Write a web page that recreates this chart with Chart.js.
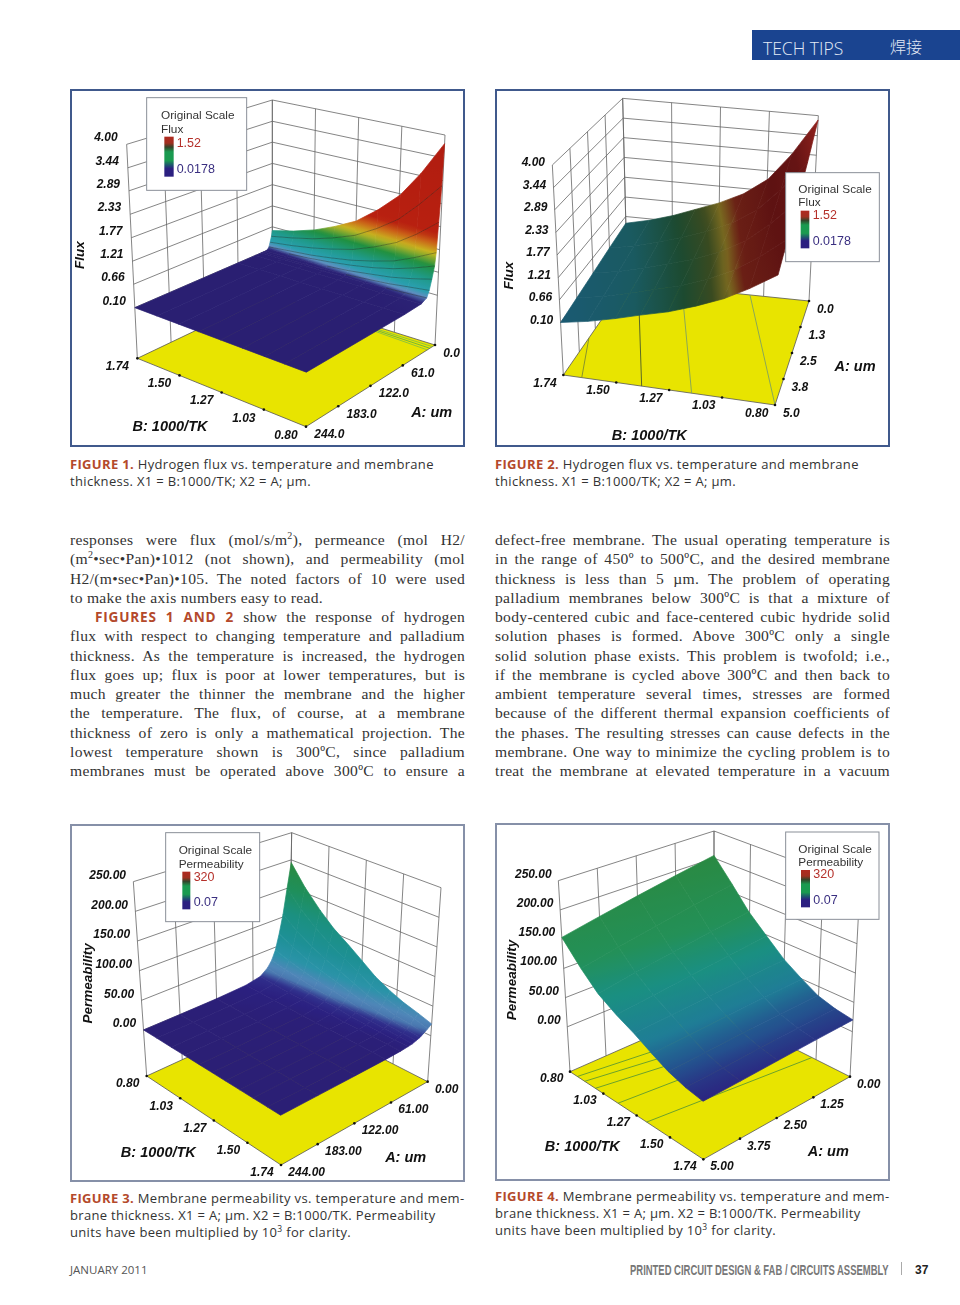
<!DOCTYPE html>
<html lang="en">
<head>
<meta charset="utf-8">
<title>Tech Tips</title>
<script src="https://cdn.jsdelivr.net/npm/chart.js"></script>
<style>
  html, body { margin: 0; padding: 0; background: #fff; }
  #page { position: relative; width: 960px; height: 1305px; overflow: hidden; }
  .abs { position: absolute; }
  .frame { position: absolute; box-sizing: border-box; width: 395px; height: 358px; border: 2px solid #40598c; }
  .frame.pale { border-color: #8690a8; }
  canvas { position: absolute; width: 405px; height: 365px; }
  .band { left: 752px; top: 30px; width: 208px; height: 30px; background: #1a4490; }
  .tt { left: 763px; top: 38px; font: 300 17.5px/20px "Open Sans", sans-serif; color: #e4ebf6; }
  .cn { left: 890px; top: 36px; font: 300 16px/20px "Noto Sans CJK SC", sans-serif; color: #e4ebf6; }
  .cap { position: absolute; font: 13px/16.8px "Open Sans", sans-serif; letter-spacing: .33px; color: #333; white-space: nowrap; }
  .cap b { color: #b4492b; font-weight: 700; }
  .cap sup { font-size: 8.5px; line-height: 0; }
  .col { position: absolute; top: 530px; width: 395px; font: 15.6px/19.25px "Liberation Serif", serif; letter-spacing: .3px; color: #333; }
  .col div { height: 19.25px; text-align: justify; text-align-last: justify; white-space: normal; overflow: hidden; }
  .col div.end { text-align-last: left; }
  .col div.ind { padding-left: 25px; }
  .col sup { font-size: 10px; line-height: 0; }
  .col b { font: 700 13.6px "Open Sans", sans-serif; color: #b4492b; letter-spacing: .8px; }
  .foot { font: 11.5px/14px "Open Sans", sans-serif; color: #555; left: 70px; top: 1263px; }
  .pub { left: 630px; top: 1262px; font: 700 14px/16px "Liberation Sans", sans-serif; color: #777; white-space: nowrap; transform-origin: 0 0; transform: scaleX(.675); }
  .sep { left: 901px; top: 1262px; width: 1px; height: 13px; background: #aaa; }
  .num { left: 915px; top: 1263px; font: 700 12px/14px "Liberation Sans", sans-serif; color: #222; }
</style>
</head>
<body>
<div id="page">
  <div class="abs band"></div>
  <div class="abs tt">TECH TIPS</div>
  <div class="abs cn">焊接</div>

  <div class="frame" style="left:70px;top:89px"></div>
  <div class="frame" style="left:495px;top:89px"></div>
  <div class="frame pale" style="left:70px;top:824px"></div>
  <div class="frame pale" style="left:495px;top:823px"></div>
  <canvas id="chart1" width="405" height="365" style="left:65px;top:85px"></canvas>
  <canvas id="chart2" width="405" height="365" style="left:490px;top:85px"></canvas>
  <canvas id="chart3" width="405" height="365" style="left:65px;top:820px"></canvas>
  <canvas id="chart4" width="405" height="365" style="left:490px;top:820px"></canvas>

  <div class="cap" style="left:70px;top:456px"><b>FIGURE 1.</b> Hydrogen flux vs. temperature and membrane<br>thickness. X1 = B:1000/TK; X2 = A; µm.</div>
  <div class="cap" style="left:495px;top:456px"><b>FIGURE 2.</b> Hydrogen flux vs. temperature and membrane<br>thickness. X1 = B:1000/TK; X2 = A; µm.</div>
  <div class="cap" style="left:70px;top:1190px"><b>FIGURE 3.</b> Membrane permeability vs. temperature and mem-<br>brane thickness. X1 = A; µm. X2 = B:1000/TK. Permeability<br>units have been multiplied by 10<sup>3</sup> for clarity.</div>
  <div class="cap" style="left:495px;top:1188px"><b>FIGURE 4.</b> Membrane permeability vs. temperature and mem-<br>brane thickness. X1 = A; µm. X2 = B:1000/TK. Permeability<br>units have been multiplied by 10<sup>3</sup> for clarity.</div>

  <div class="col" style="left:70px">
    <div>responses were flux (mol/s/m<sup>2</sup>), permeance (mol H2/</div>
    <div>(m<sup>2</sup>•sec•Pan)•1012 (not shown), and permeability (mol</div>
    <div>H2/(m•sec•Pan)•105. The noted factors of 10 were used</div>
    <div class="end">to make the axis numbers easy to read.</div>
    <div class="ind"><b>FIGURES 1 AND 2</b> show the response of hydrogen</div>
    <div>flux with respect to changing temperature and palladium</div>
    <div>thickness. As the temperature is increased, the hydrogen</div>
    <div>flux goes up; flux is poor at lower temperatures, but is</div>
    <div>much greater the thinner the membrane and the higher</div>
    <div>the temperature. The flux, of course, at a membrane</div>
    <div>thickness of zero is only a mathematical projection. The</div>
    <div>lowest temperature shown is 300ºC, since palladium</div>
    <div>membranes must be operated above 300ºC to ensure a</div>
  </div>
  <div class="col" style="left:495px">
    <div>defect-free membrane. The usual operating temperature is</div>
    <div>in the range of 450º to 500ºC, and the desired membrane</div>
    <div>thickness is less than 5 µm. The problem of operating</div>
    <div>palladium membranes below 300ºC is that a mixture of</div>
    <div>body-centered cubic and face-centered cubic hydride solid</div>
    <div>solution phases is formed. Above 300ºC only a single</div>
    <div>solid solution phase exists. This problem is twofold; i.e.,</div>
    <div>if the membrane is cycled above 300ºC and then back to</div>
    <div>ambient temperature several times, stresses are formed</div>
    <div>because of the different thermal expansion coefficients of</div>
    <div>the phases. The resulting stresses can cause defects in the</div>
    <div>membrane. One way to minimize the cycling problem is to</div>
    <div>treat the membrane at elevated temperature in a vacuum</div>
  </div>

  <div class="abs foot">JANUARY 2011</div>
  <div class="abs pub">PRINTED CIRCUIT DESIGN &amp; FAB / CIRCUITS ASSEMBLY</div>
  <div class="abs sep"></div>
  <div class="abs num">37</div>
</div>

<script>
// values
var fluxZTicks = ['0.10', '0.66', '1.21', '1.77', '2.33', '2.89', '3.44', '4.00'];
var permZTicks = ['0.00', '50.00', '100.00', '150.00', '200.00', '250.00'];

var fig1ATicks = ['0.0', '61.0', '122.0', '183.0', '244.0'];
var fig1BTicks = ['1.74', '1.50', '1.27', '1.03', '0.80'];
var fig1A = [0, 1.5, 4, 6, 8, 12, 16, 20, 30, 61, 244];
var fig1B = [1.74, 1.62, 1.50, 1.39, 1.27, 1.15, 1.03, 0.92, 0.80];
var fig1Flux = [
  [0.56, 0.70, 0.88, 1.10, 1.38, 1.80, 2.30, 2.95, 3.79],
  [0.42, 0.53, 0.66, 0.82, 1.03, 1.34, 1.71, 2.19, 2.77],
  [0.28, 0.35, 0.44, 0.55, 0.69, 0.90, 1.15, 1.48, 1.90],
  [0.17, 0.22, 0.27, 0.34, 0.43, 0.56, 0.71, 0.92, 1.18],
  [0.12, 0.16, 0.20, 0.25, 0.32, 0.41, 0.53, 0.68, 0.87],
  [0.10, 0.11, 0.13, 0.17, 0.21, 0.28, 0.35, 0.45, 0.58],
  [0.10, 0.10, 0.10, 0.12, 0.14, 0.18, 0.22, 0.28, 0.34],
  [0.10, 0.10, 0.10, 0.10, 0.11, 0.12, 0.14, 0.16, 0.19],
  [0.10, 0.10, 0.10, 0.10, 0.10, 0.10, 0.10, 0.11, 0.12],
  [0.10, 0.10, 0.10, 0.10, 0.10, 0.10, 0.10, 0.10, 0.10],
  [0.10, 0.10, 0.10, 0.10, 0.10, 0.10, 0.10, 0.10, 0.10]
];

var fig2ATicks = ['0.0', '1.3', '2.5', '3.8', '5.0'];
var fig2BTicks = ['1.74', '1.50', '1.27', '1.03', '0.80'];
var fig2A = [0, 1.25, 2.5, 3.75, 5];
var fig2B = [1.74, 1.62, 1.50, 1.39, 1.27, 1.15, 1.03, 0.92, 0.80];
var fig2Flux = [
  [0.47, 0.62, 0.82, 1.05, 1.30, 1.62, 2.10, 2.85, 3.88],
  [0.37, 0.50, 0.68, 0.87, 1.10, 1.40, 1.83, 2.45, 3.25],
  [0.27, 0.39, 0.56, 0.74, 0.94, 1.21, 1.58, 2.09, 2.75],
  [0.18, 0.30, 0.47, 0.64, 0.82, 1.07, 1.39, 1.80, 2.32],
  [0.10, 0.22, 0.38, 0.55, 0.72, 0.95, 1.22, 1.55, 1.97]
];

var fig3ATicks = ['0.00', '61.00', '122.00', '183.00', '244.00'];
var fig3BTicks = ['0.80', '1.03', '1.27', '1.50', '1.74'];
var fig3A = [0, 6, 12, 18, 24, 30, 37, 49, 73, 122, 183, 244];
var fig3B = [0.80, 0.89, 0.99, 1.08, 1.18, 1.27, 1.36, 1.46, 1.55, 1.65, 1.74];
var fig3Perm = [
  [195, 160, 130, 108, 90, 73, 56, 43, 34, 27, 20],
  [150, 123, 100, 83, 69, 56, 43, 33, 26, 21, 15],
  [105, 86, 70, 58, 49, 39, 30, 23, 18, 15, 11],
  [72, 59, 48, 40, 33, 27, 21, 16, 13, 10, 7],
  [45, 37, 30, 25, 21, 17, 13, 10, 8, 6, 5],
  [29, 24, 20, 16, 14, 11, 8, 6, 5, 4, 3],
  [18, 14, 12, 10, 8, 7, 5, 4, 3, 2, 2],
  [8, 6, 5, 4, 4, 3, 2, 2, 1, 1, 1],
  [3, 3, 2, 2, 1, 1, 1, 1, 0.5, 0.5, 0.3],
  [1, 0.8, 0.7, 0.5, 0.5, 0.4, 0.3, 0.2, 0.2, 0.1, 0.1],
  [0.4, 0.3, 0.3, 0.2, 0.2, 0.1, 0.1, 0.1, 0.1, 0.07, 0.07],
  [0.2, 0.2, 0.1, 0.1, 0.1, 0.1, 0.07, 0.07, 0.07, 0.07, 0.07]
];

var fig4ATicks = ['0.00', '1.25', '2.50', '3.75', '5.00'];
var fig4BTicks = ['0.80', '1.03', '1.27', '1.50', '1.74'];
var fig4A = [0, 1.25, 2.5, 3.75, 5];
var fig4B = [0.80, 0.92, 1.03, 1.15, 1.27, 1.39, 1.50, 1.62, 1.74];
var fig4Perm = [
  [205, 165, 128, 98, 70, 50, 34, 25, 20],
  [192, 153, 119, 91, 67, 48, 33, 24, 19],
  [179, 141, 109, 85, 64, 46, 32, 23, 17.5],
  [166, 129, 100, 78, 61, 44, 30, 21, 16],
  [153, 117, 90, 72, 58, 42, 29, 20, 15]
];

// colour maps, value -> colour
var fluxColors = [[0.10, '#2a1f72'], [0.13, '#2c2478'], [0.2, '#5f8fc0'], [0.3, '#2a9fb0'], [0.55, '#1f9a8a'], [0.85, '#1f9040'], [1.15, '#c8b820'], [1.38, '#cc6618'], [1.6, '#b82010'], [3.9, '#b01c10']];
var flux2Colors = [[0.10, '#1a5a72'], [0.5, '#1a5a60'], [0.85, '#1c4a30'], [1.12, '#3a4a20'], [1.3, '#7a6a20'], [1.5, '#6a1f15'], [2.2, '#5e1212'], [3.0, '#661414'], [3.9, '#96241e']];
var permColors = [[0.07, '#2b1f75'], [3, '#2b2080'], [8, '#30308c'], [15, '#4a78b0'], [22, '#4f86b8'], [40, '#2a93a8'], [70, '#1d9095'], [110, '#1b9080'], [150, '#1f8f5a'], [195, '#2a8a40'], [320, '#a82018']];
var perm4Colors = [[0.07, '#2b1f75'], [15, '#2b2580'], [28, '#24508e'], [50, '#1f7d96'], [85, '#1a8f82'], [125, '#239058'], [205, '#2a8a42']];

// where each box of each plot sits, in reference crop units (three per pixel)
var UNITS = 3;
var fig1 = {
  id: 'chart1', A: fig1A, B: fig1B, Z: fig1Flux, aTicks: fig1ATicks, bTicks: fig1BTicks, zTicks: fluxZTicks,
  colors: fluxColors, zFloor: -1.11, zName: 'Flux', rowLines: 0.13,
  K: [622, 627], L: [217, 820], R: [1110, 780], F: [723, 1025],
  KT: [622, 45], LT: [185, 178], RT: [1140, 150], FT: [727, 335],
  zOff: [-27, -19], bOff: [-60, 26], aOff: [25, 25],
  bTitle: [315, 1027], aTitle: [1100, 985], zTitle: [47, 510],
  contours: [[[0.02, 1], [0.02, 0.6], '#88c040'], [[0.04, 1], [0.03, 0.6], '#66b040'], [[0.06, 1], [0.04, 0.6], '#88c040']],
  box: [245, 38, 545, 316], text: [288, 93, 133], bar: [298, 155, 326, 275], hi: ['1.52', 335, 175], lo: ['0.0178', 335, 255]
};
var fig2 = {
  id: 'chart2', A: fig2A, B: fig2B, Z: fig2Flux, aTicks: fig2ATicks, bTicks: fig2BTicks, zTicks: fluxZTicks,
  colors: flux2Colors, zFloor: -1.20, zName: 'Flux',
  K: [412, 592], L: [220, 870], R: [957, 648], F: [855, 960],
  KT: [398, 40], LT: [187, 240], RT: [985, 92], FT: [870, 320],
  zOff: [-22, -6], bOff: [-55, 25], aOff: [24, 26],
  bTitle: [478, 1053], aTitle: [1095, 845], zTitle: [58, 572],
  contours: [[[1, 0.087], [0.6, 0], '#7d8a30'], [[1, 0.37], [0, 0.06], '#4a5a2a'], [[1, 0.606], [0, 0.3], '#7fa060'], [[1, 1], [0, 0.675], '#7fa060']],
  box: [887, 263, 1168, 530], text: [925, 315, 353], bar: [932, 377, 958, 490], hi: ['1.52', 968, 393], lo: ['0.0178', 968, 470]
};
var fig3 = {
  id: 'chart3', A: fig3A, B: fig3B, Z: fig3Perm, aTicks: fig3ATicks, bTicks: fig3BTicks, zTicks: permZTicks,
  colors: permColors, zFloor: -77.5, zName: 'Permeability',
  K: [672, 572], L: [245, 768], R: [1088, 785], F: [648, 1035],
  KT: [680, 38], LT: [205, 185], RT: [1128, 203], FT: [643, 405],
  zOff: [-22, -18], bOff: [-57, 24], aOff: [22, 23],
  bTitle: [280, 998], aTitle: [1022, 1015], zTitle: [70, 490],
  contours: [],
  box: [302, 38, 584, 305], text: [341, 93, 133], bar: [352, 155, 376, 268], hi: ['320', 386, 172], lo: ['0.07', 386, 247]
};
var fig4 = {
  id: 'chart4', A: fig4A, B: fig4B, Z: fig4Perm, aTicks: fig4ATicks, bTicks: fig4BTicks, zTicks: permZTicks,
  colors: perm4Colors, zFloor: -76.7, zName: 'Permeability',
  K: [672, 565], L: [240, 755], R: [1080, 770], F: [640, 1018],
  KT: [672, 33], LT: [205, 182], RT: [1110, 195], FT: [637, 398],
  zOff: [-20, -19], bOff: [-55, 21], aOff: [21, 23],
  bTitle: [277, 980], aTitle: [1015, 997], zTitle: [68, 480],
  contours: [[[1, 0.055], [0, 0.2], '#5f9a30'], [[1, 0.11], [0, 0.3], '#5f9a30'], [[1, 0.19], [0, 0.38], '#5f9a30'], [[1, 0.36], [0, 0.48], '#5f9a30'], [[1, 0.575], [0, 0.72], '#5f9a30']],
  box: [887, 36, 1167, 298], text: [925, 90, 128], bar: [933, 150, 960, 262], hi: ['320', 970, 165], lo: ['0.07', 970, 241]
};

function hexToRgb(h) {
  return [parseInt(h.substr(1, 2), 16), parseInt(h.substr(3, 2), 16), parseInt(h.substr(5, 2), 16)];
}

function colorAt(stops, z) {
  if (z <= stops[0][0]) return stops[0][1];
  for (var i = 1; i < stops.length; i++) {
    if (z <= stops[i][0]) {
      var t = (z - stops[i - 1][0]) / (stops[i][0] - stops[i - 1][0]);
      var a = hexToRgb(stops[i - 1][1]), b = hexToRgb(stops[i][1]);
      return 'rgb(' + Math.round(a[0] + (b[0] - a[0]) * t) + ',' + Math.round(a[1] + (b[1] - a[1]) * t) + ',' + Math.round(a[2] + (b[2] - a[2]) * t) + ')';
    }
  }
  return stops[stops.length - 1][1];
}

// fit z across the cell on screen, so neighbouring cells meet in colour
function cellShade(cctx, stops, pts, zs) {
  var cx = 0, cy = 0, cz = 0;
  for (var i = 0; i < 4; i++) { cx += pts[i].x / 4; cy += pts[i].y / 4; cz += zs[i] / 4; }
  var xx = 0, xy = 0, yy = 0, xz = 0, yz = 0;
  for (i = 0; i < 4; i++) {
    var dx = pts[i].x - cx, dy = pts[i].y - cy, dz = zs[i] - cz;
    xx += dx * dx; xy += dx * dy; yy += dy * dy; xz += dx * dz; yz += dy * dz;
  }
  var det = xx * yy - xy * xy;
  if (Math.abs(det) < 1e-6) return colorAt(stops, cz);
  var a = (xz * yy - yz * xy) / det, b = (yz * xx - xz * xy) / det;
  var len = a * a + b * b;
  if (len < 1e-12) return colorAt(stops, cz);
  var zLo = Math.min.apply(null, zs), zHi = Math.max.apply(null, zs);
  var g = cctx.createLinearGradient(
    (cx + a * (zLo - cz) / len) / UNITS, (cy + b * (zLo - cz) / len) / UNITS,
    (cx + a * (zHi - cz) / len) / UNITS, (cy + b * (zHi - cz) / len) / UNITS);
  for (var s = 0; s <= 8; s++) g.addColorStop(s / 8, colorAt(stops, zLo + (zHi - zLo) * s / 8));
  return g;
}

function drawFigure(fig) {
  var canvas = document.getElementById(fig.id);
  var cctx = canvas.getContext('2d');
  var zVals = fig.zTicks.map(parseFloat);
  var zTop = zVals[zVals.length - 1];
  var aMax = fig.A[fig.A.length - 1];
  var b0 = fig.B[0], b1 = fig.B[fig.B.length - 1];

  // u runs along A, v along B, w is height in the box
  function mix(p, q, t) { return [p[0] + (q[0] - p[0]) * t, p[1] + (q[1] - p[1]) * t]; }
  function project(u, v, w) {
    var floor = mix(mix(fig.K, fig.R, v), mix(fig.L, fig.F, v), u);
    var top = mix(mix(fig.KT, fig.RT, v), mix(fig.LT, fig.FT, v), u);
    var p = mix(floor, top, w);
    return { x: p[0], y: p[1] };
  }
  function hgt(z) { return (z - fig.zFloor) / (zTop - fig.zFloor); }
  function line(points, color, width) {
    return { data: points, showLine: true, borderColor: color, borderWidth: width, pointRadius: 0, fill: false, tension: 0 };
  }

  var sets = [];
  var n = fig.aTicks.length - 1, m = fig.bTicks.length - 1;

  // back walls
  zVals.forEach(function (z) {
    var w = hgt(z);
    sets.push(line([project(1, 0, w), project(0, 0, w), project(0, 1, w)], '#666', 0.8));
  });
  for (var i = 0; i <= n; i++) sets.push(line([project(i / n, 0, 0), project(i / n, 0, 1)], '#666', 0.8));
  for (var j = 0; j <= m; j++) sets.push(line([project(0, j / m, 0), project(0, j / m, 1)], '#666', 0.8));

  // floor with its contours and axis ticks
  var base = [project(0, 0, 0), project(1, 0, 0), project(1, 1, 0), project(0, 1, 0), project(0, 0, 0)];
  sets.push({ data: base, showLine: true, borderColor: '#555', borderWidth: 0.8, backgroundColor: '#e8e400', fill: 'shape', pointRadius: 0, tension: 0 });
  fig.contours.forEach(function (c) {
    sets.push(line([project(c[0][0], c[0][1], 0), project(c[1][0], c[1][1], 0)], c[2], 0.9));
  });
  var dots = [];
  for (i = 0; i <= n; i++) dots.push(project(i / n, 1, 0));
  for (j = 0; j < m; j++) dots.push(project(1, j / m, 0));
  sets.push({ data: dots, showLine: false, pointRadius: 1.3, pointBackgroundColor: '#111', pointBorderWidth: 0 });

  // surface, back to front
  for (var r = 0; r < fig.A.length - 1; r++) {
    for (var c = 0; c < fig.B.length - 1; c++) {
      var u0 = fig.A[r] / aMax, u1 = fig.A[r + 1] / aMax;
      var v0 = (fig.B[c] - b0) / (b1 - b0), v1 = (fig.B[c + 1] - b0) / (b1 - b0);
      var corners = [[u0, v0, fig.Z[r][c]], [u1, v0, fig.Z[r + 1][c]], [u1, v1, fig.Z[r + 1][c + 1]], [u0, v1, fig.Z[r][c + 1]]];
      var pts = corners.map(function (k) { return project(k[0], k[1], hgt(k[2])); });
      var shade = cellShade(cctx, fig.colors, pts, corners.map(function (k) { return k[2]; }));
      sets.push({ data: pts.concat([pts[0]]), showLine: true, fill: 'shape', backgroundColor: shade, borderColor: shade, borderWidth: 0.7, pointRadius: 0, tension: 0 });
    }
  }

  // dark mesh lines on the raised part of the surface
  if (fig.rowLines) {
    for (r = 1; r < fig.A.length - 1; r++) {
      var rowPts = [];
      for (c = 0; c < fig.B.length; c++) {
        if (fig.Z[r][c] > fig.rowLines) rowPts.push(project(fig.A[r] / aMax, (fig.B[c] - b0) / (b1 - b0), hgt(fig.Z[r][c])));
      }
      if (rowPts.length > 1) sets.push(line(rowPts, 'rgba(20,30,20,0.5)', 0.7));
    }
  }

  // chart.js paints the first dataset last
  sets.reverse();

  var labels = {
    id: 'labels',
    afterDatasetsDraw: function (chart) {
      var ctx = chart.ctx, sx = chart.scales.x, sy = chart.scales.y;
      var X = function (v) { return sx.getPixelForValue(v); };
      var Y = function (v) { return sy.getPixelForValue(v); };
      ctx.save();
      ctx.textBaseline = 'middle';
      ctx.fillStyle = '#111';
      ctx.font = 'italic bold 12px "Liberation Sans"';

      ctx.textAlign = 'right';
      fig.zTicks.forEach(function (t, i) {
        var p = project(1, 0, hgt(zVals[i]));
        ctx.fillText(t, X(p.x + fig.zOff[0]), Y(p.y + fig.zOff[1]));
      });
      ctx.textAlign = 'center';
      fig.bTicks.forEach(function (t, i) {
        var p = project(1, i / m, 0);
        ctx.fillText(t, X(p.x + fig.bOff[0]), Y(p.y + fig.bOff[1]));
      });
      ctx.textAlign = 'left';
      fig.aTicks.forEach(function (t, i) {
        var p = project(i / n, 1, 0);
        ctx.fillText(t, X(p.x + fig.aOff[0]), Y(p.y + fig.aOff[1]));
      });

      ctx.textAlign = 'center';
      ctx.font = 'italic bold 14.5px "Liberation Sans"';
      ctx.fillText('B: 1000/TK', X(fig.bTitle[0]), Y(fig.bTitle[1]));
      ctx.fillText('A: um', X(fig.aTitle[0]), Y(fig.aTitle[1]));
      ctx.save();
      ctx.translate(X(fig.zTitle[0]), Y(fig.zTitle[1]));
      ctx.rotate(-Math.PI / 2);
      ctx.font = 'italic bold 13.5px "Liberation Sans"';
      ctx.fillText(fig.zName, 0, 0);
      ctx.restore();

      // legend box
      var b = fig.box;
      ctx.fillStyle = '#fff';
      ctx.fillRect(X(b[0]), Y(b[1]), X(b[2]) - X(b[0]), Y(b[3]) - Y(b[1]));
      ctx.strokeStyle = '#8a8f98';
      ctx.lineWidth = 1;
      ctx.strokeRect(X(b[0]), Y(b[1]), X(b[2]) - X(b[0]), Y(b[3]) - Y(b[1]));
      ctx.textAlign = 'left';
      ctx.fillStyle = '#333';
      ctx.font = '11.8px "Liberation Sans"';
      ctx.fillText('Original Scale', X(fig.text[0]), Y(fig.text[1]));
      ctx.fillText(fig.zName, X(fig.text[0]), Y(fig.text[2]));
      var q = fig.bar;
      var g = ctx.createLinearGradient(0, Y(q[1]), 0, Y(q[3]));
      g.addColorStop(0, '#b02a20'); g.addColorStop(0.16, '#a03020'); g.addColorStop(0.26, '#33442a');
      g.addColorStop(0.38, '#1a9a50'); g.addColorStop(0.6, '#1a9a50'); g.addColorStop(0.72, '#1f4f70');
      g.addColorStop(0.8, '#2b1f80'); g.addColorStop(1, '#2b1f80');
      ctx.fillStyle = g;
      ctx.fillRect(X(q[0]), Y(q[1]), X(q[2]) - X(q[0]), Y(q[3]) - Y(q[1]));
      ctx.font = '12.5px "Liberation Sans"';
      ctx.fillStyle = '#b5302a';
      ctx.fillText(fig.hi[0], X(fig.hi[1]), Y(fig.hi[2]));
      ctx.fillStyle = '#3a2f80';
      ctx.fillText(fig.lo[0], X(fig.lo[1]), Y(fig.lo[2]));
      ctx.restore();
    }
  };

  return new Chart(canvas, {
    type: 'scatter',
    data: { datasets: sets },
    options: {
      responsive: false,
      animation: false,
      clip: false,
      layout: { padding: 0, autoPadding: false },
      scales: {
        x: { type: 'linear', display: false, min: 0, max: 1215 },
        y: { type: 'linear', display: false, min: 0, max: 1095, reverse: true }
      },
      plugins: { legend: { display: false }, tooltip: { enabled: false } }
    },
    plugins: [labels]
  });
}

drawFigure(fig1);
drawFigure(fig2);
drawFigure(fig3);
drawFigure(fig4);
</script>
</body>
</html>
